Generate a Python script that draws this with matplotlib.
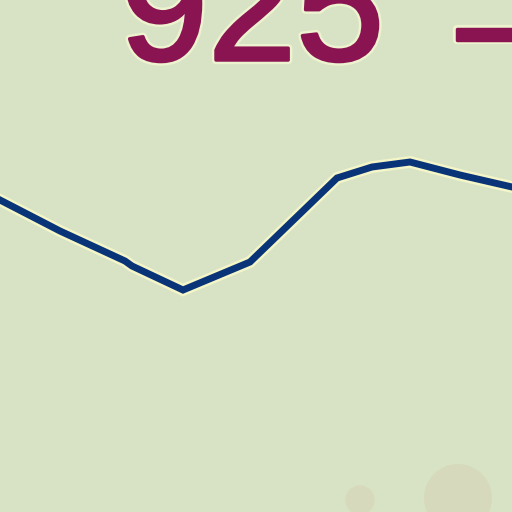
import matplotlib
matplotlib.use('Agg')
import matplotlib.pyplot as plt
import matplotlib.patheffects as pe

line_x = [0, 60, 125, 132, 183, 250, 337, 372, 410, 460, 512]
line_y = [200, 231, 261, 266, 290, 262, 178, 167, 162, 175, 187]

label_num = '925'
label_dash = '\u2013'
bg = '#d8e3c5'
maroon = '#8a1452'

fig = plt.figure(figsize=(5.12, 5.12), dpi=100)
fig.patch.set_facecolor(bg)
ax = fig.add_axes([0, 0, 1, 1])
ax.set_facecolor(bg)
ax.set_xlim(0, 512)
ax.set_ylim(512, 0)
ax.axis('off')

# faint smudge at the lower right
ax.scatter([458, 360], [498, 500], s=[2400, 450], color='#d5cfb0', alpha=0.45,
           edgecolors='none')

ax.plot(line_x, line_y, color='#0a3478', lw=5, solid_joinstyle='miter',
        path_effects=[pe.Stroke(linewidth=8.5, foreground='#f4f6c8'), pe.Normal()])

txt_fx = [pe.Stroke(linewidth=6, foreground='#eef3cf'),
          pe.Stroke(linewidth=2.5, foreground=maroon), pe.Normal()]
ax.text(120, 60, label_num, fontsize=114, family='Liberation Sans',
        color=maroon, va='baseline', ha='left', path_effects=txt_fx)
ax.text(457, 34, label_dash, fontsize=114, family='Liberation Sans',
        color=maroon, va='center', ha='left', path_effects=txt_fx)

fig.savefig('out.png', dpi=100, facecolor=bg)
